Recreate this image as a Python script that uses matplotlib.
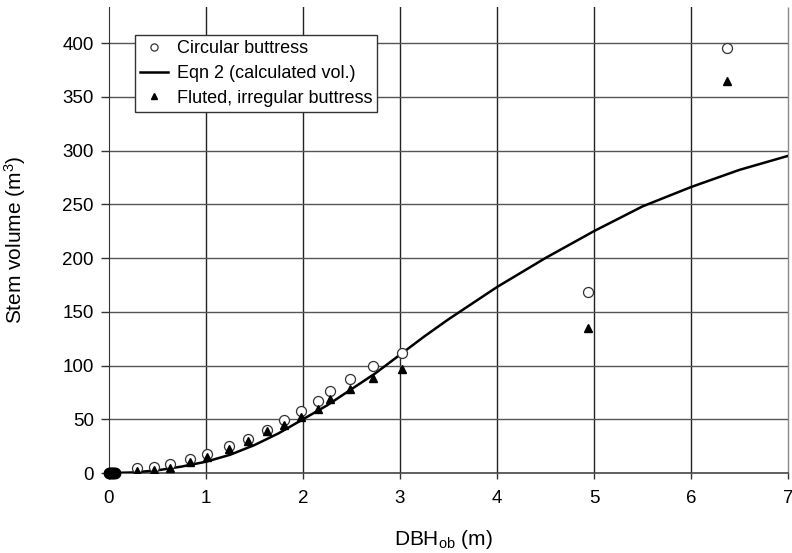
import matplotlib
matplotlib.use("Agg")
import matplotlib.pyplot as plt
import numpy as np

plt.rcParams['font.family'] = ['Liberation Sans', 'DejaVu Sans']
plt.rcParams['mathtext.default'] = 'regular'

# Data
dbh_pts = [0.0, 0.015, 0.03, 0.045, 0.06, 0.29, 0.46, 0.63, 0.83, 1.01, 1.24, 1.43,
           1.63, 1.80, 1.98, 2.15, 2.28, 2.48, 2.72, 3.02, 4.94, 6.37]
vol_circular = [0, 0, 0, 0, 0, 4.4, 5.3, 8, 13, 17.7, 24.8, 32,
                40, 49, 57.7, 67, 76, 87.4, 99.8, 112, 168, 395]
vol_fluted = [0, 0, 0, 0, 0, 2, 3, 5, 10, 15, 22, 30,
              39, 44.6, 52, 60, 68.5, 78, 88, 97, 135, 365]

dbh_line = [0, 0.25, 0.5, 0.75, 1.0, 1.25, 1.5, 1.75, 2.0, 2.25, 2.5, 2.75, 3.0,
            3.25, 3.5, 3.75, 4.0, 4.5, 5.0, 5.5, 6.0, 6.5, 7.0]
vol_line = [0, 0.5, 2.5, 6, 10.5, 17, 26, 37, 50, 63, 78, 93, 110,
            127, 143, 158, 173, 200, 225, 248, 266, 282, 295]

xticks = [0, 1, 2, 3, 4, 5, 6, 7]
yticks = [0, 50, 100, 150, 200, 250, 300, 350, 400]

fig = plt.figure(figsize=(7.92, 5.53), dpi=100)
ax = fig.add_axes([109/792, 1-473/553, 679/792, 466/553])

# grid
for xv in xticks[1:-1]:
    ax.axvline(xv, color='#222222', lw=1.0, zorder=1)
for yv in yticks[1:]:
    ax.axhline(yv, color='#555555', lw=1.0, zorder=1)

ax.plot(dbh_line, vol_line, color='black', lw=1.8, zorder=3,
        label='Eqn 2 (calculated vol.)')
ax.plot(dbh_pts, vol_circular, linestyle='none', marker='o', markersize=7.2,
        markerfacecolor='white', markeredgecolor='#333333', markeredgewidth=0.9,
        zorder=4, label='Circular buttress')
ax.plot(dbh_pts, vol_fluted, linestyle='none', marker='^', markersize=5.8,
        color='black', zorder=5, label='Fluted, irregular buttress')

# blob at origin (many overlapping small trees)
ax.plot(dbh_pts[:5], vol_fluted[:5], linestyle='none', marker='o', markersize=7.5,
        color='black', zorder=6, clip_on=False)

ax.set_xlim(0, 7)
ax.set_ylim(0, 433.5)
ax.set_xticks(xticks)
ax.set_yticks(yticks)
ax.set_xticklabels([str(v) for v in xticks])
ax.set_yticklabels([str(v) for v in yticks])
ax.tick_params(axis='x', direction='out', length=4, width=1, pad=8, labelsize=13.5, color='#333333')
ax.tick_params(axis='y', direction='out', length=6, width=1, pad=5, labelsize=13.5, color='#333333')

ax.spines['top'].set_visible(False)
ax.spines['right'].set_color('#888888')
ax.spines['right'].set_linestyle((0, (1, 1)))
ax.spines['right'].set_linewidth(1.0)
ax.spines['left'].set_color('#333333')
ax.spines['bottom'].set_color('#444444')
ax.spines['bottom'].set_linewidth(1.2)

ax.set_xlabel('DBH$_{ob}$ (m)', fontsize=15)
ax.set_ylabel('Stem volume (m$^3$)', fontsize=15)
ax.xaxis.set_label_coords((443 - 109) / 679, (473 - 528) / 466)
ax.yaxis.set_label_coords((28 - 109) / 679, 0.5)

handles, labels = ax.get_legend_handles_labels()
order = [1, 0, 2]
leg = ax.legend([handles[i] for i in order], [labels[i] for i in order],
                loc='upper left', bbox_to_anchor=((135 - 109) / 679, 1 - (35 - 7) / 466),
                borderaxespad=0, fontsize=13, frameon=True, fancybox=False,
                edgecolor='#333333', framealpha=1, handlelength=1.5, handletextpad=0.5,
                borderpad=0.3, labelspacing=0.42, markerscale=0.72)
leg.get_frame().set_linewidth(1.0)
leg.set_zorder(10)

fig.savefig('out.png', dpi=100)
